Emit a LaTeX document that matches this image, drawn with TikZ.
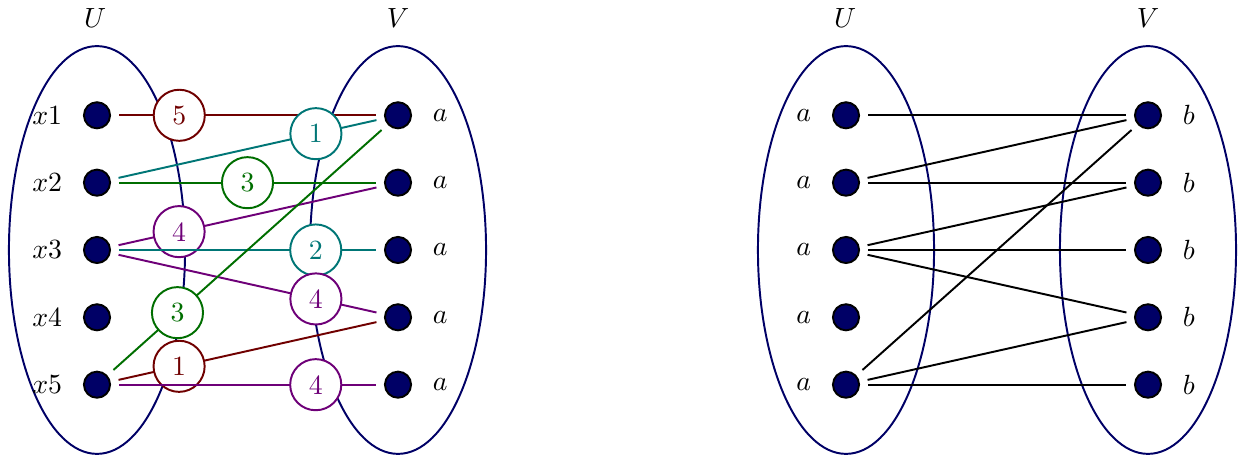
\documentclass[tikz,border=0pt]{standalone}
\definecolor{mred}{RGB}{112,0,0}
\definecolor{mteal}{RGB}{0,118,118}
\definecolor{mgreen}{RGB}{0,110,0}
\definecolor{mpurple}{RGB}{110,0,120}
\definecolor{mnavy}{RGB}{0,0,102}
\begin{document}
\begin{tikzpicture}[x=0.36pt,y=-0.36pt,
  vtx/.style={circle,draw=black,fill=mnavy,line width=0.7pt,minimum size=9.4pt,inner sep=0pt},
  part/.style={draw=mnavy,line width=0.7pt},
  wt/.style={circle,draw=#1,text=#1,fill=white,line width=0.7pt,minimum size=18.4pt,inner sep=0pt},
  conn/.style={line width=0.7pt,shorten <=2.9pt,shorten >=2.9pt},
  lft/.style={label={[label distance=4pt]left:#1}},
  rgt/.style={label={[label distance=4pt]right:#1}},
]
\useasboundingbox (0,0) rectangle (1244,459);
% ---------- left graph ----------
\draw[part] (97,250) ellipse [x radius=31.7pt, y radius=73.4pt];
\draw[part] (398,250) ellipse [x radius=31.7pt, y radius=73.4pt];
\node (lU) at (95,18) {$U$};
\node (lV) at (398,18) {$V$};
\node[vtx,lft={$x1$}] (x1) at (97,115.3) {};
\node[vtx,lft={$x2$}] (x2) at (97,182.7) {};
\node[vtx,lft={$x3$}] (x3) at (97,250) {};
\node[vtx,lft={$x4$}] (x4) at (97,317.3) {};
\node[vtx,lft={$x5$}] (x5) at (97,384.7) {};
\node[vtx,rgt={$a$}] (a1) at (398,115.3) {};
\node[vtx,rgt={$a$}] (a2) at (398,182.7) {};
\node[vtx,rgt={$a$}] (a3) at (398,250) {};
\node[vtx,rgt={$a$}] (a4) at (398,317.3) {};
\node[vtx,rgt={$a$}] (a5) at (398,384.7) {};
\draw[conn,mred] (x1) -- node[wt=mred,pos=0.25] (w1) {5} (a1);
\draw[conn,mteal] (x2) -- node[wt=mteal,pos=0.75] (w2) {1} (a1);
\draw[conn,mgreen] (x2) -- node[wt=mgreen,pos=0.5] (w3) {3} (a2);
\draw[conn,mpurple] (x3) -- node[wt=mpurple,pos=0.25] (w4) {4} (a2);
\draw[conn,mteal] (x3) -- node[wt=mteal,pos=0.75] (w5) {2} (a3);
\draw[conn,mpurple] (x3) -- node[wt=mpurple,pos=0.75] (w6) {4} (a4);
\draw[conn,mgreen] (x5) -- node[wt=mgreen,pos=0.25] (w7) {3} (a1);
\draw[conn,mred] (x5) -- node[wt=mred,pos=0.25] (w8) {1} (a4);
\draw[conn,mpurple] (x5) -- node[wt=mpurple,pos=0.75] (w9) {4} (a5);
% ---------- right graph ----------
\draw[part] (846,250) ellipse [x radius=31.7pt, y radius=73.4pt];
\draw[part] (1148,250) ellipse [x radius=31.7pt, y radius=73.4pt];
\node (rU) at (845,18) {$U$};
\node (rV) at (1148,18) {$V$};
\node[vtx,lft={$a$}] (p1) at (846,115.3) {};
\node[vtx,lft={$a$}] (p2) at (846,182.7) {};
\node[vtx,lft={$a$}] (p3) at (846,250) {};
\node[vtx,lft={$a$}] (p4) at (846,317.3) {};
\node[vtx,lft={$a$}] (p5) at (846,384.7) {};
\node[vtx,rgt={$b$}] (q1) at (1148,115.3) {};
\node[vtx,rgt={$b$}] (q2) at (1148,182.7) {};
\node[vtx,rgt={$b$}] (q3) at (1148,250) {};
\node[vtx,rgt={$b$}] (q4) at (1148,317.3) {};
\node[vtx,rgt={$b$}] (q5) at (1148,384.7) {};
\draw[conn] (p1) -- (q1);
\draw[conn] (p2) -- (q1);
\draw[conn] (p2) -- (q2);
\draw[conn] (p3) -- (q2);
\draw[conn] (p3) -- (q3);
\draw[conn] (p3) -- (q4);
\draw[conn] (p5) -- (q1);
\draw[conn] (p5) -- (q4);
\draw[conn] (p5) -- (q5);
\end{tikzpicture}
\end{document}
